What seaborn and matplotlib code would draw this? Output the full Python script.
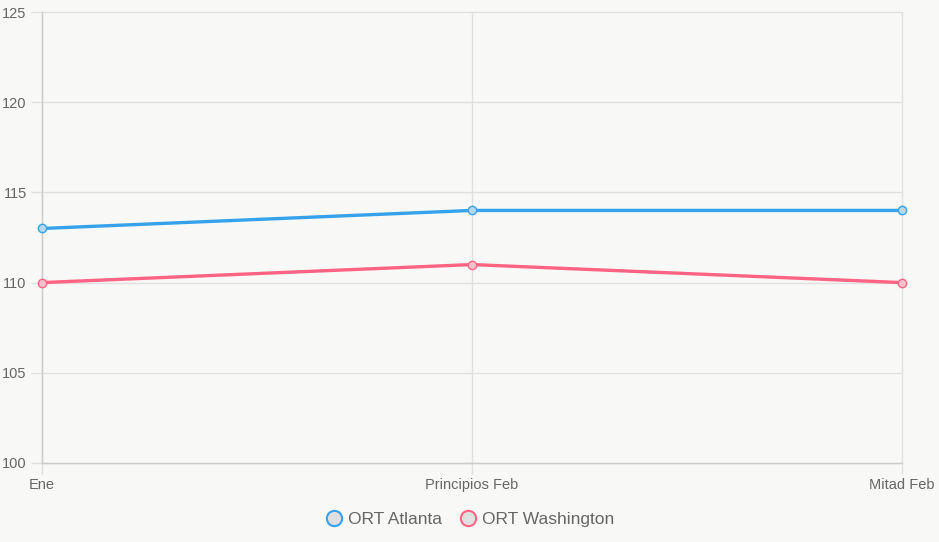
import matplotlib
matplotlib.use("Agg")
import matplotlib.pyplot as plt
from matplotlib.lines import Line2D
import seaborn as sns
import pandas as pd

categories = ["Ene", "Principios Feb", "Mitad Feb"]
atlanta = [113, 114, 114]
washington = [110, 111, 110]
series_names = ["ORT Atlanta", "ORT Washington"]
y_ticks = [100, 105, 110, 115, 120, 125]

colors = {"ORT Atlanta": "#36a2eb", "ORT Washington": "#ff6384"}
fills = {"ORT Atlanta": "#b5d8f0", "ORT Washington": "#f6c1cc"}

df = pd.DataFrame({
    "cat": categories * 2,
    "x": list(range(len(categories))) * 2,
    "value": atlanta + washington,
    "series": [series_names[0]] * 3 + [series_names[1]] * 3,
})

sns.set_theme(style="white")
plt.rcParams["font.family"] = ["Liberation Sans", "DejaVu Sans"]

bg = "#f8f8f6"
fig = plt.figure(figsize=(9.39, 5.42), dpi=100, facecolor=bg)
ax = fig.add_axes([42 / 939, 79 / 542, 860 / 939, 451 / 542])
ax.set_facecolor(bg)

for name in series_names:
    sub = df[df["series"] == name]
    sns.lineplot(data=sub, x="x", y="value", ax=ax, color=colors[name],
                 linewidth=2.4, marker="o", markersize=6,
                 markerfacecolor=fills[name], markeredgecolor=colors[name],
                 markeredgewidth=1.0, legend=False, zorder=3, clip_on=False)

ax.set_xlim(0, len(categories) - 1)
ax.set_ylim(100, 125)
ax.set_yticks(y_ticks)
ax.set_xticks(range(len(categories)))
ax.set_xticklabels(categories)
ax.set_xlabel("")
ax.set_ylabel("")

grid_c = "#e0e0e0"
ax.grid(True, color=grid_c, linewidth=1.0)
for gl in ax.get_xgridlines() + ax.get_ygridlines():
    gl.set_clip_on(False)
ax.set_axisbelow(True)
for s in ["top", "right"]:
    ax.spines[s].set_visible(False)
for s in ["left", "bottom"]:
    ax.spines[s].set_color("#cccccc")
    ax.spines[s].set_linewidth(1.0)
ax.tick_params(axis="both", bottom=True, left=True, labelsize=10.5, length=8,
               width=1.0, color=grid_c, labelcolor="#666666")
ax.tick_params(axis="x", pad=3)
ax.tick_params(axis="y", pad=3)

handles = [Line2D([0], [0], linestyle="none", marker="o", markersize=11,
                  markerfacecolor="#e0e0e0", markeredgecolor=colors[n],
                  markeredgewidth=1.5) for n in series_names]
leg = fig.legend(handles, series_names, loc="center", bbox_to_anchor=(0.5, 23 / 542),
                 ncol=2, frameon=False, fontsize=12.5, handletextpad=0.3,
                 columnspacing=1.0, handlelength=1.0)
for t in leg.get_texts():
    t.set_color("#666666")

fig.savefig("out.png", dpi=100, facecolor=bg)
